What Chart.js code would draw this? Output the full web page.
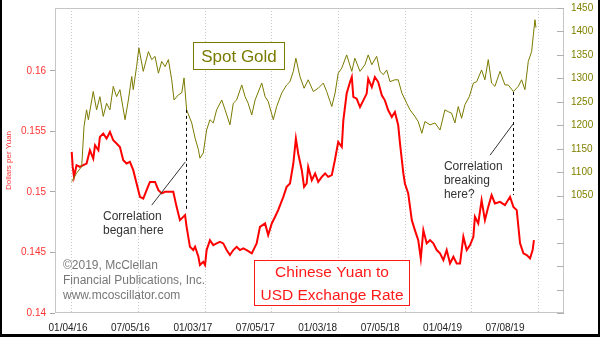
<!DOCTYPE html>
<html>
<head>
<meta charset="utf-8">
<script src="https://cdn.jsdelivr.net/npm/chart.js@4"></script>
<style>
  html, body { margin: 0; padding: 0; background: #fff; }
  #wrap { width: 600px; height: 337px; position: relative; }
</style>
</head>
<body>
<div id="wrap"><canvas id="yuan-gold-chart" width="600" height="337"></canvas></div>
<script>
Chart.defaults.font.family = '"Liberation Sans", Arial, sans-serif';
Chart.defaults.font.size = 10;

// x values are weeks counted from 01/04/16, gridlines every 26 weeks
const gridWeeks = [0, 26, 52, 78, 104, 130, 156, 182];
const xLabels = ["01/04/16", "07/05/16", "01/03/17", "07/05/17", "01/03/18", "07/05/18", "01/04/19", "07/08/19"];

// Chinese yuan, dollars per yuan
const yuanWeek = [
  0, 0.4, 0.9, 1.9, 3.2, 4.5, 5.8, 7.1, 8.4, 9.1,
  10.4, 11, 12.3, 13.6, 14.9, 16.2, 17.5, 18.8, 20.1, 21.4,
  22.7, 24, 25.3, 26.6, 27.9, 29.2, 30.5, 32.5, 33.8, 35.1,
  36.4, 39.6, 40.9, 42.2, 44.2, 44.8, 46.1, 47.4, 48.1, 49.4,
  50, 51.3, 52, 52.6, 53.9, 55.2, 56.5, 57.8, 59.1, 60.4,
  61.7, 63, 64.3, 65.6, 66.9, 68.2, 70.2, 72.1, 73.4, 75.4,
  76.6, 78, 79.3, 80.5, 82.5, 83.8, 85.1, 86.4, 87.4, 88.3,
  89.7, 90.6, 91.6, 92.2, 93.6, 94.9, 96.1, 97.5, 98.8, 100,
  101.4, 102.6, 103.9, 105.3, 105.9, 107.2, 108.5, 109.2, 109.8, 111.1,
  112.4, 113.7, 115, 115.6, 117, 118.2, 119.5, 120.9, 122.1, 123.4,
  124.8, 126, 127.3, 128, 129.3, 129.9, 131.2, 132.6, 133.8, 135.1,
  136.1, 137.1, 138.4, 139.7, 141, 142.3, 143.6, 144.9, 146.2, 147.5,
  148.8, 150.1, 151.4, 152.7, 154, 155.3, 156.6, 157.2, 158.5, 159.8,
  161.1, 162.4, 163.7, 165, 167, 168.9, 170.9, 172.2, 173.5, 174.8,
  176.1, 177.4, 178.7, 179.7, 180.2
];
const yuanRate = [
  0.15331, 0.15207, 0.15125, 0.15221, 0.15207, 0.15221, 0.15235, 0.15345, 0.15276, 0.15386,
  0.15345, 0.15455, 0.15483, 0.15441, 0.15496, 0.15427, 0.154, 0.15372, 0.15262, 0.15235,
  0.15248, 0.1518, 0.1507, 0.1496, 0.14946, 0.15015, 0.15083, 0.15083, 0.15015, 0.14988,
  0.15001, 0.15001, 0.14877, 0.14767, 0.14809, 0.14712, 0.14547, 0.1452, 0.14547, 0.14465,
  0.14396, 0.14423, 0.14396, 0.1452, 0.14602, 0.14561, 0.14575, 0.14588, 0.14575, 0.1452,
  0.14479, 0.1452, 0.14547, 0.1452, 0.14534, 0.1452, 0.14493, 0.14575, 0.14712, 0.1474,
  0.14644, 0.1474, 0.14795, 0.1485, 0.1496, 0.15042, 0.1507, 0.15235, 0.15441, 0.15318,
  0.1518, 0.15042, 0.1507, 0.15207, 0.15097, 0.15153, 0.15083, 0.15125, 0.15153, 0.15125,
  0.15139, 0.15262, 0.15413, 0.15372, 0.15592, 0.15813, 0.15908, 0.1595, 0.15785, 0.15771,
  0.15702, 0.15757, 0.15813, 0.15936, 0.15867, 0.1595, 0.15908, 0.15799, 0.15757, 0.15675,
  0.1562, 0.15661, 0.15551, 0.154, 0.15153, 0.1507, 0.14988, 0.14767, 0.14685, 0.14602,
  0.14451, 0.14685, 0.14575, 0.14602, 0.14575, 0.1452, 0.14493, 0.14437, 0.1452, 0.1441,
  0.14465, 0.1441, 0.1441, 0.1463, 0.1452, 0.14561, 0.1463, 0.14795, 0.1474, 0.14932,
  0.14767, 0.14877, 0.14974, 0.14905, 0.14918, 0.14891, 0.1496, 0.14877, 0.1485, 0.14575,
  0.14493, 0.14479, 0.14451, 0.1452, 0.14602
];

// spot gold, dollars per ounce
const goldWeek = [
  0, 1.9, 3.9, 4.8, 5.8, 6.5, 8.4, 9.7, 11, 12.3,
  13.6, 14.9, 16.2, 17.5, 18.8, 20.8, 22.1, 23.4, 24, 25.3,
  26.2, 27.9, 29.9, 31.2, 32.5, 33.8, 35.1, 36.4, 37.7, 39,
  39.9, 41.6, 42.9, 43.8, 44.8, 46.8, 48.1, 49.4, 50, 51.3,
  52.6, 53.9, 55.2, 56.5, 58.5, 59.8, 61.7, 63, 64.3, 66.3,
  67.6, 68.8, 70.2, 71.5, 74.1, 75.4, 76.6, 78.6, 79.9, 81.9,
  83.8, 85.1, 86.4, 87.4, 89, 90.6, 92.2, 94.2, 96.1, 98.1,
  99.4, 101.4, 102.7, 103.9, 105.3, 107.2, 109.2, 110.4, 112.4, 114.3,
  115.6, 117, 118.9, 120.2, 121.5, 122.8, 124.1, 126, 127.3, 128.7,
  130.6, 131.9, 133.8, 135.1, 136.5, 137.7, 139.7, 141.6, 143.6, 145.5,
  146.8, 148.1, 149.4, 150.7, 152, 153.3, 155, 156.6, 157.9, 159.8,
  161.1, 162.4, 163.7, 165, 167, 168.9, 170.2, 172.2, 174.1, 175.4,
  176.7, 178, 179.3, 180.6, 181
];
const goldPrice = [
  1080, 1098, 1112, 1197, 1233, 1212, 1272, 1233, 1261, 1219,
  1247, 1233, 1283, 1261, 1276, 1212, 1254, 1304, 1276, 1325,
  1365, 1315, 1357, 1340, 1347, 1311, 1336, 1325, 1340, 1297,
  1254, 1265, 1269, 1301, 1233, 1205, 1173, 1148, 1130, 1141,
  1190, 1212, 1205, 1233, 1254, 1233, 1201, 1247, 1254, 1286,
  1261, 1247, 1222, 1254, 1290, 1261, 1251, 1212, 1240, 1269,
  1286, 1293, 1315, 1343, 1304, 1279, 1297, 1272, 1279, 1290,
  1272, 1240, 1269, 1311, 1322, 1350, 1315, 1343, 1315, 1329,
  1350, 1329, 1347, 1315, 1308, 1318, 1293, 1297, 1297, 1269,
  1247, 1233, 1219, 1208, 1183, 1208, 1201, 1205, 1190, 1233,
  1229, 1226, 1205, 1240, 1215, 1244, 1261, 1290, 1293, 1318,
  1297, 1340, 1290, 1283, 1315, 1286, 1286, 1272, 1283, 1297,
  1276, 1336, 1357, 1425, 1408
];

// dashed drops from the gold line to the yuan line
const markers = [
  { week: 44.4, gold: 1233, yuan: 0.1485 },
  { week: 172.2, gold: 1271, yuan: 0.14974 }
];
const leaders = [
  { from: [44.3, 0.15248], to: [31.2, 0.14891] },
  { from: [172.2, 0.15565], to: [163.1, 0.15304] }
];
const notes = [
  { week: 12.2, yuan: 0.14795, lines: ["Correlation", "began here"] },
  { week: 145.1, yuan: 0.15207, lines: ["Correlation", "breaking", "here?"] }
];

const toPoints = (xs, ys) => xs.map((w, i) => ({ x: w, y: ys[i] }));

// y axes: keep the fixed width and stop the end labels from pushing the plot area
const fixWidth = (w) => (scale) => {
  scale.width = w;
  scale.paddingTop = 0;
  scale.paddingBottom = 0;
};

const boxText = (ctx, rect, lines, color, size) => {
  ctx.fillStyle = "#fff";
  ctx.fillRect(rect[0], rect[1], rect[2], rect[3]);
  ctx.strokeStyle = color;
  ctx.lineWidth = 1;
  ctx.strokeRect(rect[0] + 0.5, rect[1] + 0.5, rect[2] - 1, rect[3] - 1);
  ctx.fillStyle = color;
  ctx.font = size + 'px "Liberation Sans", Arial, sans-serif';
  ctx.textAlign = "center";
  ctx.textBaseline = "middle";
  const step = rect[3] / lines.length;
  lines.forEach((t, i) => ctx.fillText(t, rect[0] + rect[2] / 2, rect[1] + step * (i + 0.5) + 1));
};

const overlayPlugin = {
  id: "overlay",
  afterDraw: (chart) => {
    const { ctx, chartArea: area, scales } = chart;
    const x = scales.x, yuan = scales.y, gold = scales.y1;
    ctx.save();

    // plot frame
    ctx.strokeStyle = "#c6c6c6";
    ctx.lineWidth = 1;
    ctx.strokeRect(area.left + 0.5, area.top + 0.5, area.width - 1, area.height - 1);

    // gold axis ticks point into the plot
    ctx.strokeStyle = "#b0b0b0";
    gold.ticks.forEach((t, i) => {
      const py = Math.round(gold.getPixelForTick(i)) + 0.5;
      ctx.beginPath();
      ctx.moveTo(area.right - 7, py);
      ctx.lineTo(area.right, py);
      ctx.stroke();
    });

    ctx.strokeStyle = "#000";
    ctx.setLineDash([3, 3]);
    markers.forEach((m) => {
      const px = Math.round(x.getPixelForValue(m.week)) + 0.5;
      ctx.beginPath();
      ctx.moveTo(px, gold.getPixelForValue(m.gold));
      ctx.lineTo(px, yuan.getPixelForValue(m.yuan));
      ctx.stroke();
    });
    ctx.setLineDash([]);

    ctx.strokeStyle = "#333";
    leaders.forEach((l) => {
      ctx.beginPath();
      ctx.moveTo(x.getPixelForValue(l.from[0]), yuan.getPixelForValue(l.from[1]));
      ctx.lineTo(x.getPixelForValue(l.to[0]), yuan.getPixelForValue(l.to[1]));
      ctx.stroke();
    });

    ctx.fillStyle = "#333";
    ctx.font = '12px "Liberation Sans", Arial, sans-serif';
    ctx.textAlign = "left";
    ctx.textBaseline = "middle";
    notes.forEach((n) => {
      const px = x.getPixelForValue(n.week);
      const py = yuan.getPixelForValue(n.yuan);
      n.lines.forEach((t, i) => ctx.fillText(t, px, py + i * 14));
    });

    // copyright
    ctx.fillStyle = "#777";
    ["\u00a92019, McClellan", "Financial Publications, Inc.", "www.mcoscillator.com"].forEach((t, i) => {
      ctx.fillText(t, area.left + 8, area.top + 258 + i * 14.8);
    });

    boxText(ctx, [193, 42, 92, 28], ["Spot Gold"], "#7a7a00", 17);
    boxText(ctx, [254, 260, 156, 46], ["Chinese Yuan to", "USD Exchange Rate"], "#ff1a1a", 15.5);

    // picture frame
    ctx.fillStyle = "#000";
    ctx.fillRect(0, 0, 2, chart.height);
    ctx.fillRect(chart.width - 2, 0, 2, chart.height);
    ctx.fillRect(0, chart.height - 3, chart.width, 3);
    ctx.restore();
  }
};

const ctx = document.getElementById("yuan-gold-chart").getContext("2d");
const chart = new Chart(ctx, {
  type: "line",
  data: {
    datasets: [
      {
        label: "Spot Gold",
        data: toPoints(goldWeek, goldPrice),
        yAxisID: "y1",
        borderColor: "#7a7a00",
        borderWidth: 1,
        pointRadius: 0,
        tension: 0,
        order: 0
      },
      {
        label: "Chinese Yuan",
        data: toPoints(yuanWeek, yuanRate),
        yAxisID: "y",
        borderColor: "#ff0000",
        borderWidth: 2,
        pointRadius: 0,
        tension: 0,
        order: 1
      }
    ]
  },
  options: {
    responsive: false,
    animation: false,
    events: [],
    layout: { padding: { top: 8 } },
    plugins: { legend: { display: false }, tooltip: { enabled: false } },
    scales: {
      x: {
        type: "linear",
        position: "bottom",
        min: -6.51,
        max: 191.93,
        afterBuildTicks: (scale) => { scale.ticks = gridWeeks.map((v) => ({ value: v })); },
        ticks: { display: false },
        grid: { color: "#c8c8c8", drawTicks: false },
        border: { display: false, dash: [1, 2] }
      },
      xl: {
        type: "linear",
        position: "bottom",
        min: -0.208,
        max: 7.945,
        afterBuildTicks: (scale) => { scale.ticks = xLabels.map((l, i) => ({ value: i })); },
        afterFit: (scale) => { scale.height = 24; },
        ticks: {
          autoSkip: false,
          maxRotation: 0,
          padding: 9,
          color: "#222",
          callback: (v, i) => xLabels[i]
        },
        grid: { display: false, drawTicks: false },
        border: { display: false }
      },
      y: {
        position: "left",
        min: 0.14,
        max: 0.1652,
        afterBuildTicks: (scale) => { scale.ticks = [0.14, 0.145, 0.15, 0.155, 0.16].map((v) => ({ value: v })); },
        afterFit: fixWidth(55),
        ticks: { color: "#ff3333", padding: 4, callback: (v) => String(+v.toFixed(3)) },
        grid: { drawOnChartArea: false, tickLength: 5, color: "#aaa" },
        border: { display: false },
        title: { display: true, text: "Dollars per Yuan", color: "#ff3333", font: { size: 8 }, padding: { top: 4, bottom: 0 } }
      },
      y1: {
        position: "right",
        min: 800,
        max: 1450,
        afterFit: fixWidth(36),
        ticks: {
          stepSize: 50,
          color: "#808000",
          padding: 7,
          callback: (v) => (v >= 1050 ? String(v) : "")
        },
        grid: { display: false, drawTicks: false },
        border: { display: false }
      }
    }
  },
  plugins: [overlayPlugin]
});
</script>
</body>
</html>
